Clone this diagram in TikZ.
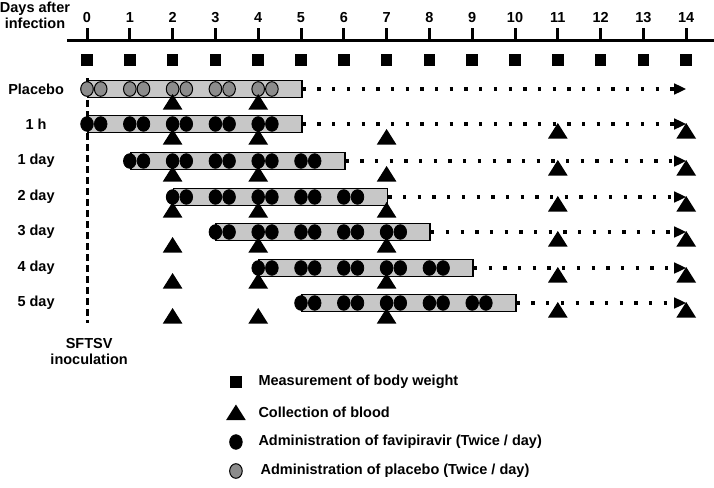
\documentclass[tikz,border=0pt]{standalone}
\usepackage{fontspec}
\setmainfont{Liberation Sans}
\usetikzlibrary{arrows.meta}

\begin{document}
\begin{tikzpicture}[x=42.8pt,y=-1pt,
  every node/.style={font=\bfseries\fontsize{14.5}{16}\selectfont},
  wsquare/.style={fill=black,inner sep=0pt,minimum size=11.5pt},
  barbox/.style={draw=black,fill=black!22,line width=1.7pt,inner sep=0pt,
    minimum height=17pt,minimum width=214pt,anchor=west},
  favi/.style={fill=black,draw=black,line width=0.8pt},
  plac/.style={fill=black!45,draw=black,line width=1pt},
  follow/.style={line width=3.3pt,dash pattern=on 3.3pt off 11.4pt,
    -{Triangle[length=12pt,width=10.5pt]}},
  blood/.pic={\fill (0,0) -- (-9.8pt,-15.5pt) -- (9.8pt,-15.5pt) -- cycle;}]
  \useasboundingbox (-2.0327,0) rectangle (14.6495,487);

  % time axis, days after infection
  \node[align=center] (title) at (-1.215,15) {Days after\\infection};
  \draw[line width=3pt] (-0.467,41) -- (14.65,41);
  \foreach \d in {0,...,14} {
    \draw[line width=3pt] (\d,28.5) -- (\d,41);
    \node (day\d) at (\d,17.5) {\d};
    \node[wsquare] (sq\d) at (\d,60) {};
  }

  % inoculation at day 0
  \draw[line width=3pt,dash pattern=on 7pt off 4pt] (0,78) -- (0,323);
  \node[align=center] (inoc) at (0.05,351.5) {SFTSV\\inoculation};

  % treatment groups: five days of doses, then follow-up
  \foreach \lbl/\s/\y/\st [count=\i] in {Placebo/0/89/plac, 1 h/0/124/favi,
      1 day/1/161/favi, 2 day/2/197/favi, 3 day/3/232/favi,
      4 day/4/268/favi, 5 day/5/303/favi} {
    \node (lab\i) at (-1.19,\y) {\lbl};
    \node[barbox] (bar\i) at (\s,\y) {};
    \coordinate (end\i) at (14,\y);
    \draw[follow] (bar\i.east) -- (end\i);
    \foreach \k in {0,...,4} {
      \draw[\st] (\s+\k,\y) ellipse[x radius=6.3pt,y radius=7.3pt];
      \draw[\st] (\s+\k+0.32,\y) ellipse[x radius=6.3pt,y radius=7.3pt];
    }
  }

  % blood collection
  \foreach \y in {89,124,161,197,232,268,303} {
    \pic at (2,\y+5) {blood};
    \pic at (4,\y+5) {blood};
  }
  \foreach \y in {124,161,197,232,268,303} {
    \pic at (7,\y+5) {blood};
    \pic at (11,\y-1) {blood};
    \pic at (14,\y-1) {blood};
  }

  % legend
  \node[wsquare] (keysq) at (3.48,382) {};
  \pic at (3.48,404.5) {blood};
  \draw[favi] (3.48,442) ellipse[x radius=6.3pt,y radius=7.3pt];
  \draw[plac] (3.48,471) ellipse[x radius=6.3pt,y radius=7.3pt];
  \node[anchor=west] (keysqtxt) at (3.925,382) {Measurement of body weight};
  \node[anchor=west] (keytritxt) at (3.925,412) {Collection of blood};
  \node[anchor=west] (keyfavitxt) at (3.925,442)
    {Administration of favipiravir (Twice / day)};
  \node[anchor=west] (keyplactxt) at (3.972,471)
    {Administration of placebo (Twice / day)};
\end{tikzpicture}
\end{document}
